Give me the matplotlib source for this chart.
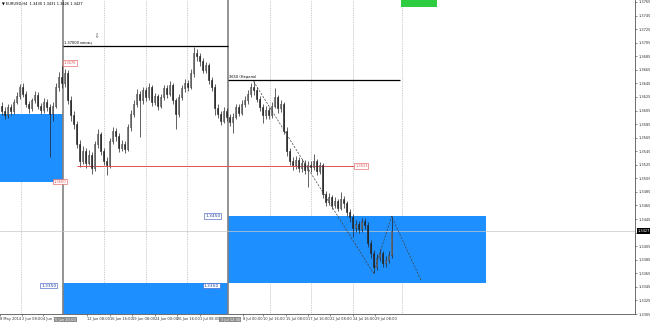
import numpy as np
import matplotlib
matplotlib.use("Agg")
import matplotlib.pyplot as plt
from matplotlib.patches import Rectangle
from matplotlib.transforms import blended_transform_factory

# H4 свечи EURUSD (open первой свечи, дальше open = предыдущий close)
first_open = 1.3612
close = [1.3605, 1.3598, 1.3610, 1.3604, 1.3618, 1.3627, 1.3640, 1.3630, 1.3615, 1.3608,
         1.3620, 1.3628, 1.3612, 1.3606, 1.3618, 1.3610, 1.3600, 1.3612, 1.3640, 1.3655,
         1.3645, 1.3660, 1.3620, 1.3598, 1.3585, 1.3556, 1.3530, 1.3545, 1.3528, 1.3540,
         1.3520, 1.3555, 1.3570, 1.3545, 1.3530, 1.3525, 1.3560, 1.3575, 1.3568, 1.3550,
         1.3556, 1.3548, 1.3580, 1.3600, 1.3615, 1.3630, 1.3620, 1.3635, 1.3625, 1.3640,
         1.3618, 1.3626, 1.3612, 1.3625, 1.3638, 1.3630, 1.3642, 1.3620, 1.3600, 1.3625,
         1.3638, 1.3646, 1.3640, 1.3660, 1.3690, 1.3685, 1.3678, 1.3665, 1.3672, 1.3650,
         1.3640, 1.3608, 1.3600, 1.3590, 1.3605, 1.3595, 1.3588, 1.3596, 1.3610, 1.3602,
         1.3615, 1.3620, 1.3630, 1.3640, 1.3635, 1.3622, 1.3610, 1.3598, 1.3606, 1.3598,
         1.3612, 1.3625, 1.3608, 1.3615, 1.3575, 1.3545, 1.3530, 1.3524, 1.3532, 1.3520,
         1.3528, 1.3518, 1.3525, 1.3522, 1.3530, 1.3516, 1.3524, 1.3482, 1.3470, 1.3478,
         1.3465, 1.3472, 1.3462, 1.3475, 1.3468, 1.3455, 1.3448, 1.3432, 1.3438, 1.3430,
         1.3442, 1.3436, 1.3410, 1.3395, 1.3375, 1.3388, 1.3395, 1.3380, 1.3385, 1.3392,
         1.3427]
high = [1.3618, 1.3610, 1.3615, 1.3614, 1.3622, 1.3633, 1.3644, 1.3645, 1.3634, 1.3619,
        1.3624, 1.3634, 1.3632, 1.3616, 1.3623, 1.3622, 1.3614, 1.3618, 1.3646, 1.3662,
        1.3670, 1.3666, 1.3664, 1.3626, 1.3604, 1.3590, 1.3562, 1.3552, 1.3549, 1.3547,
        1.3544, 1.3560, 1.3578, 1.3574, 1.3550, 1.3536, 1.3565, 1.3580, 1.3579, 1.3572,
        1.3562, 1.3560, 1.3585, 1.3606, 1.3620, 1.3636, 1.3634, 1.3640, 1.3639, 1.3645,
        1.3643, 1.3631, 1.3629, 1.3630, 1.3643, 1.3642, 1.3648, 1.3645, 1.3624, 1.3630,
        1.3643, 1.3652, 1.3650, 1.3666, 1.3698, 1.3696, 1.3690, 1.3682, 1.3677, 1.3675,
        1.3655, 1.3644, 1.3614, 1.3605, 1.3610, 1.3609, 1.3600, 1.3602, 1.3615, 1.3614,
        1.3620, 1.3626, 1.3635, 1.3645, 1.3648, 1.3639, 1.3626, 1.3614, 1.3611, 1.3610,
        1.3617, 1.3638, 1.3628, 1.3620, 1.3618, 1.3580, 1.3550, 1.3536, 1.3538, 1.3536,
        1.3534, 1.3532, 1.3530, 1.3530, 1.3541, 1.3534, 1.3529, 1.3527, 1.3487, 1.3483,
        1.3481, 1.3477, 1.3475, 1.3485, 1.3479, 1.3472, 1.3460, 1.3452, 1.3443, 1.3442,
        1.3447, 1.3446, 1.3440, 1.3414, 1.3399, 1.3393, 1.3401, 1.3398, 1.3390, 1.3398,
        1.3449]
low = [1.3598, 1.3592, 1.3594, 1.3598, 1.3600, 1.3614, 1.3622, 1.3625, 1.3610, 1.3601,
       1.3604, 1.3616, 1.3607, 1.3600, 1.3602, 1.3604, 1.3537, 1.3590, 1.3608, 1.3634,
       1.3638, 1.3640, 1.3614, 1.3590, 1.3578, 1.3550, 1.3522, 1.3526, 1.3520, 1.3524,
       1.3511, 1.3516, 1.3550, 1.3540, 1.3524, 1.3510, 1.3520, 1.3555, 1.3560, 1.3544,
       1.3545, 1.3542, 1.3545, 1.3575, 1.3595, 1.3610, 1.3566, 1.3615, 1.3619, 1.3620,
       1.3612, 1.3613, 1.3606, 1.3608, 1.3620, 1.3624, 1.3626, 1.3615, 1.3577, 1.3596,
       1.3620, 1.3633, 1.3634, 1.3636, 1.3655, 1.3678, 1.3670, 1.3660, 1.3660, 1.3644,
       1.3634, 1.3598, 1.3594, 1.3584, 1.3586, 1.3590, 1.3582, 1.3572, 1.3592, 1.3597,
       1.3598, 1.3610, 1.3615, 1.3625, 1.3628, 1.3617, 1.3604, 1.3586, 1.3593, 1.3592,
       1.3594, 1.3608, 1.3602, 1.3603, 1.3570, 1.3538, 1.3524, 1.3518, 1.3519, 1.3514,
       1.3515, 1.3512, 1.3492, 1.3515, 1.3518, 1.3510, 1.3512, 1.3476, 1.3464, 1.3466,
       1.3460, 1.3461, 1.3457, 1.3459, 1.3462, 1.3450, 1.3440, 1.3418, 1.3426, 1.3424,
       1.3426, 1.3430, 1.3404, 1.3388, 1.3365, 1.3370, 1.3383, 1.3374, 1.3375, 1.3380,
       1.3388]

bid = 1.3427
header = "▼ EURUSD,H4  1.3430 1.3431 1.3426 1.3427"

# зоны (начало, конец в свечах, нижняя цена, верхняя цена)
zones = [(0, 21, 1.3500, 1.3600),
         (21, 76, 1.3250, 1.3350),
         (76, 162, 1.3350, 1.3450)]
green_box = (133.7, 145.7, 1.3758, 1.3780)

# уровни
month_level = 1.3700
week_level = 1.3650
red_level = 1.3523

# зигзаг (пунктир)
zz_x = [84.5, 124.5, 130.5, 140.3]
zz_y = [1.3648, 1.3365, 1.3449, 1.3355]

# вертикальные линии
vlines_solid = [21, 76]
grid_x = [7.0, 34.7, 48.7, 62.3, 90.0, 103.7, 117.7, 134.0]

# подписи оси времени
time_pos = [0, 7.3, 14.3, 29.0, 36.7, 44.0, 51.7, 59.0, 66.7, 81.0,
            87.7, 95.3, 102.7, 110.0, 117.7, 125.0]
time_lbl = ["8 May 2014", "2 Jun 08:00", "4 Jun 16:00", "12 Jun 08:00",
            "16 Jun 16:00", "19 Jun 08:00", "24 Jun 00:00", "26 Jun 16:00", "1 Jul 08:00",
            "8 Jul 00:00", "10 Jul 16:00", "15 Jul 08:00", "17 Jul 16:00",
            "22 Jul 08:00", "24 Jul 16:00", "29 Jul 08:00"]
vline_lbl = ["5 Jun 20:00", "3 Jul 12:00"]

fs = 2.6
blue = "#1E8FFF"

fig = plt.figure(figsize=(6.5, 3.22), dpi=100)
ax = fig.add_axes([0, 8 / 322, 635 / 650, 314 / 322])
ax.set_xlim(0, 635 / 3)
ax.set_ylim(1.33193, 1.37679)

# зоны
for x0, x1, p0, p1 in zones:
    ax.add_patch(Rectangle((x0, p0), x1 - x0, p1 - p0, color=blue, lw=0, zorder=1))
ax.add_patch(Rectangle((green_box[0], green_box[2]), green_box[1] - green_box[0],
                       green_box[3] - green_box[2], color="#2ECC40", lw=0, zorder=1))

# сетка и вертикальные линии
for gx in grid_x:
    ax.axvline(gx, color="#a0a0a0", lw=0.5, ls=(0, (1, 1.5)), zorder=0.5)
for vx in vlines_solid:
    ax.axvline(vx, color="#808080", lw=1.2, zorder=2)
ax.axhline(bid, color="#c8c8c8", lw=0.5, zorder=2)

# свечи
opens = np.array([first_open] + close[:-1])
closes = np.array(close)
xs = np.arange(len(closes)) + 0.5
ax.vlines(xs, low, high, color="#222222", lw=0.5, zorder=3)
up = closes >= opens
ax.bar(xs[up], closes[up] - opens[up], bottom=opens[up], width=0.6,
       color="white", edgecolor="#222222", lw=0.4, zorder=4)
ax.bar(xs[~up], opens[~up] - closes[~up], bottom=closes[~up], width=0.6,
       color="#222222", edgecolor="#222222", lw=0.4, zorder=4)

# уровни
ax.hlines(month_level, 21, 76, color="black", lw=0.9, zorder=3)
ax.hlines(week_level, 76, 133.3, color="black", lw=0.9, zorder=3)
ax.hlines(red_level, 25.7, 118.3, color="#e05050", lw=0.7, zorder=3)
ax.text(21.3, month_level + 0.0002, "1.37000 месяц", fontsize=fs, va="bottom", zorder=5)
ax.text(32, 1.3714, "⇩", fontsize=4, ha="center", va="center", color="#444444")
ax.text(76.4, week_level + 0.0002, "3650 (Неделя)", fontsize=fs, va="bottom", zorder=5)

ax.plot(zz_x, zz_y, color="#404040", lw=0.5, ls=(0, (3, 2)), zorder=5)

red_box = dict(boxstyle="square,pad=0.2", fc="white", ec="#e05050", lw=0.4)
ax.text(118.4, red_level, "1.3523", fontsize=fs, color="#e05050", va="center", bbox=red_box, zorder=6)
ax.text(21.2, 1.3675, "1.3670", fontsize=fs, color="#e05050", va="center", bbox=red_box, zorder=6)
ax.text(17.8, 1.3500, "1.3500", fontsize=fs, color="#e05050", va="center", bbox=red_box, zorder=6)

blue_box = dict(boxstyle="square,pad=0.2", fc="white", ec="#3050c0", lw=0.4)
ax.text(68.4, 1.3449, "1.3450", fontsize=3.2, color="#2040a0", va="center", bbox=blue_box, zorder=6)
ax.text(13.7, 1.3347, "1.3350", fontsize=3.2, color="#2040a0", va="center", bbox=blue_box, zorder=6)
ax.text(68.0, 1.3347, "1.3350", fontsize=3.2, color="#2040a0", va="center", bbox=blue_box, zorder=6)

ax.text(0.003, 0.995, header, transform=ax.transAxes, fontsize=fs, va="top")

# оси
for s in ["top", "left"]:
    ax.spines[s].set_visible(False)
for s in ["right", "bottom"]:
    ax.spines[s].set_color("#555555")
    ax.spines[s].set_linewidth(0.6)

# метку под ценовой плашкой не пишем (в терминале её закрывает плашка)
yt = np.round(np.arange(1.3305, 1.3766, 0.002), 4)
ax.yaxis.tick_right()
ax.set_yticks(yt)
ax.set_yticklabels(["" if abs(v - bid) < 0.0008 else f"{v:.4f}" for v in yt])
ax.tick_params(axis="y", labelsize=fs, length=1.5, width=0.4, pad=1, colors="#333333")

ax.set_xticks(time_pos)
ax.set_xticklabels(time_lbl, ha="left")
ax.tick_params(axis="x", labelsize=fs, length=1.5, width=0.4, pad=1, colors="#333333")

tr = blended_transform_factory(ax.transData, ax.transAxes)
gray_box = dict(boxstyle="square,pad=0.35", fc="#8c8c8c", ec="none")
for vx, lbl in zip(vlines_solid, vline_lbl):
    ax.text(vx + 0.8, -0.013, lbl, transform=tr, fontsize=fs, color="white",
            ha="center", va="top", bbox=gray_box, zorder=10, clip_on=False)

tr2 = blended_transform_factory(ax.transAxes, ax.transData)
ax.text(1.004, bid, "1.3427", transform=tr2, fontsize=fs, color="white", va="center",
        bbox=dict(boxstyle="square,pad=0.25", fc="black", ec="none"), clip_on=False)

fig.savefig("out.png", dpi=100)
